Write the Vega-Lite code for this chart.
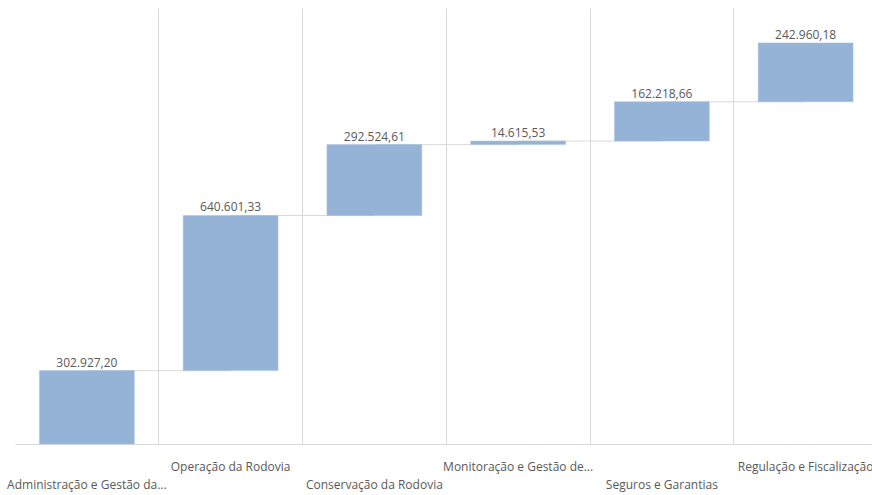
{
  "$schema": "https://vega.github.io/schema/vega-lite/v6.json",
  "autosize": {"type": "none"},
  "width": 857,
  "height": 436,
  "padding": {"left": 15, "top": 8, "right": 0, "bottom": 51},
  "background": "white",
  "config": {
    "view": {"stroke": null},
    "locale": {"number": {"decimal": ",", "thousands": ".", "grouping": [3], "currency": ["R$ ", ""]}},
    "font": "Open Sans"
  },
  "data": {
    "values": [
      {"etapa": "Administração e Gestão da...", "valor": 302927.20, "inicio": 0, "fim": 302927.20, "proxima": "Operação da Rodovia"},
      {"etapa": "Operação da Rodovia", "valor": 640601.33, "inicio": 302927.20, "fim": 943528.53, "proxima": "Conservação da Rodovia"},
      {"etapa": "Conservação da Rodovia", "valor": 292524.61, "inicio": 943528.53, "fim": 1236053.14, "proxima": "Monitoração e Gestão de..."},
      {"etapa": "Monitoração e Gestão de...", "valor": 14615.53, "inicio": 1236053.14, "fim": 1250668.67, "proxima": "Seguros e Garantias"},
      {"etapa": "Seguros e Garantias", "valor": 162218.66, "inicio": 1250668.67, "fim": 1412887.33, "proxima": "Regulação e Fiscalização"},
      {"etapa": "Regulação e Fiscalização", "valor": 242960.18, "inicio": 1412887.33, "fim": 1655847.51, "proxima": null}
    ]
  },
  "encoding": {
    "x": {
      "field": "etapa",
      "type": "nominal",
      "sort": null,
      "scale": {"type": "band", "paddingInner": 0, "paddingOuter": 0, "range": [0, 862.5]},
      "axis": {
        "title": null,
        "labelAngle": 0,
        "ticks": false,
        "bandPosition": 0,
        "domainColor": "#d9d9d9",
        "domainWidth": 1,
        "grid": true,
        "gridColor": "#d9d9d9",
        "gridWidth": 1,
        "gridOpacity": {"condition": {"test": "datum.value === 'Administração e Gestão da...'", "value": 0}, "value": 1},
        "labelColor": "#595959",
        "labelFont": "Open Sans",
        "labelFontSize": 12,
        "labelPadding": 17,
        "labelLineHeight": 18,
        "labelLimit": 0,
        "labelOverlap": false,
        "labelBound": false,
        "labelExpr": "indexof(['Operação da Rodovia', 'Monitoração e Gestão de...', 'Regulação e Fiscalização'], datum.value) >= 0 ? datum.label : ['', datum.label]"
      }
    }
  },
  "layer": [
    {
      "transform": [{"filter": "datum.proxima != null"}],
      "mark": {"type": "rule", "color": "#d9d9d9", "strokeWidth": 1},
      "encoding": {
        "x": {"field": "etapa", "type": "nominal", "sort": null, "bandPosition": 0.5},
        "x2": {"field": "proxima"},
        "y": {"field": "fim", "type": "quantitative", "scale": {"domain": [0, 1800000], "nice": false, "zero": true}, "axis": null}
      }
    },
    {
      "mark": {"type": "bar", "color": "#95b3d7", "width": {"band": 0.66}, "stroke": "#a9c1de", "strokeWidth": 0.5},
      "encoding": {
        "y": {"field": "inicio", "type": "quantitative", "scale": {"domain": [0, 1800000], "nice": false}, "axis": null},
        "y2": {"field": "fim"}
      }
    },
    {
      "mark": {"type": "text", "baseline": "middle", "dy": -8, "fontSize": 12, "color": "#595959", "font": "Open Sans"},
      "encoding": {
        "y": {"field": "fim", "type": "quantitative", "scale": {"domain": [0, 1800000], "nice": false}, "axis": null},
        "text": {"field": "valor", "type": "quantitative", "format": ",.2f"}
      }
    }
  ]
}
